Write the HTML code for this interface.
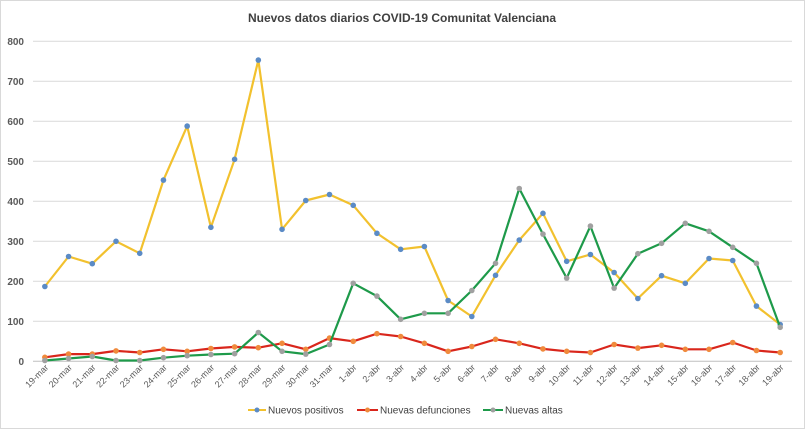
<!DOCTYPE html>
<html><head><meta charset="utf-8"><style>
body{margin:0;background:#fff;}
svg{display:block;font-family:"Liberation Sans",sans-serif;}
.xl{font-size:9px;fill:#595959;text-anchor:end;}
.yl{font-size:10px;fill:#595959;text-anchor:end;font-weight:bold;}
</style></head><body>
<svg id="c" width="805" height="429" viewBox="0 0 805 429">
<rect x="0.5" y="0.5" width="804" height="428" fill="#fff" stroke="#d9d9d9"/>
<text x="402" y="22" text-anchor="middle" font-size="12" font-weight="bold" fill="#404040">Nuevos datos diarios COVID-19 Comunitat Valenciana</text>
<g stroke="#d9d9d9" stroke-width="1">
<line x1="33" x2="792" y1="41.3" y2="41.3"/><line x1="33" x2="792" y1="81.3" y2="81.3"/>
<line x1="33" x2="792" y1="121.3" y2="121.3"/><line x1="33" x2="792" y1="161.3" y2="161.3"/>
<line x1="33" x2="792" y1="201.3" y2="201.3"/><line x1="33" x2="792" y1="241.3" y2="241.3"/>
<line x1="33" x2="792" y1="281.3" y2="281.3"/><line x1="33" x2="792" y1="321.3" y2="321.3"/>
<line x1="33" x2="792" y1="361.3" y2="361.3" stroke="#bfbfbf"/>
</g>
<g class="yl">
<text x="24" y="45">800</text><text x="24" y="85">700</text><text x="24" y="125">600</text>
<text x="24" y="165">500</text><text x="24" y="205">400</text><text x="24" y="245">300</text>
<text x="24" y="285">200</text><text x="24" y="325">100</text><text x="24" y="365">0</text>
</g>
<g class="xl">
<text transform="translate(49,368) rotate(-45)">19-mar</text>
<text transform="translate(72.6,368) rotate(-45)">20-mar</text>
<text transform="translate(96.3,368) rotate(-45)">21-mar</text>
<text transform="translate(120,368) rotate(-45)">22-mar</text>
<text transform="translate(143.7,368) rotate(-45)">23-mar</text>
<text transform="translate(167.5,368) rotate(-45)">24-mar</text>
<text transform="translate(191.2,368) rotate(-45)">25-mar</text>
<text transform="translate(214.9,368) rotate(-45)">26-mar</text>
<text transform="translate(238.6,368) rotate(-45)">27-mar</text>
<text transform="translate(262.3,368) rotate(-45)">28-mar</text>
<text transform="translate(286.1,368) rotate(-45)">29-mar</text>
<text transform="translate(309.8,368) rotate(-45)">30-mar</text>
<text transform="translate(333.5,368) rotate(-45)">31-mar</text>
<text transform="translate(357.2,368) rotate(-45)">1-abr</text>
<text transform="translate(381,368) rotate(-45)">2-abr</text>
<text transform="translate(404.7,368) rotate(-45)">3-abr</text>
<text transform="translate(428.4,368) rotate(-45)">4-abr</text>
<text transform="translate(452.1,368) rotate(-45)">5-abr</text>
<text transform="translate(475.8,368) rotate(-45)">6-abr</text>
<text transform="translate(499.5,368) rotate(-45)">7-abr</text>
<text transform="translate(523.3,368) rotate(-45)">8-abr</text>
<text transform="translate(547,368) rotate(-45)">9-abr</text>
<text transform="translate(570.7,368) rotate(-45)">10-abr</text>
<text transform="translate(594.4,368) rotate(-45)">11-abr</text>
<text transform="translate(618.1,368) rotate(-45)">12-abr</text>
<text transform="translate(641.9,368) rotate(-45)">13-abr</text>
<text transform="translate(665.6,368) rotate(-45)">14-abr</text>
<text transform="translate(689.3,368) rotate(-45)">15-abr</text>
<text transform="translate(713,368) rotate(-45)">16-abr</text>
<text transform="translate(736.7,368) rotate(-45)">17-abr</text>
<text transform="translate(760.5,368) rotate(-45)">18-abr</text>
<text transform="translate(784.2,368) rotate(-45)">19-abr</text>
</g>
<g id="series"></g>
<g font-size="10" fill="#404040">
<line x1="248" x2="266" y1="410" y2="410" stroke="#f2c12e" stroke-width="2"/><circle cx="257" cy="410" r="2.5" fill="#5b8bc6"/>
<text x="268" y="413.5">Nuevos positivos</text>
<line x1="357" x2="378" y1="410" y2="410" stroke="#d9261c" stroke-width="2"/><circle cx="367.5" cy="410" r="2.5" fill="#f08a3c"/>
<text x="380" y="413.5">Nuevas defunciones</text>
<line x1="483" x2="503" y1="410" y2="410" stroke="#1e9a4a" stroke-width="2"/><circle cx="493" cy="410" r="2.5" fill="#a0a0a0"/>
<text x="505" y="413.5">Nuevas altas</text>
</g>
</svg>
<script>
var P=[187,262,244,300,270,453,588,335,505,753,330,402,417,390,320,280,287,152,112,215,303,370,250,267,222,157,214,195,257,252,138,92];
var D=[10,18,18,26,22,30,25,32,36,34,45,30,58,50,69,62,45,25,37,55,45,31,25,22,42,33,40,30,30,47,27,22];
var A=[2,7,12,2,2,9,14,17,19,72,25,18,42,195,163,105,120,120,177,245,432,318,208,338,183,269,295,345,325,285,245,85];
var g=document.getElementById('series'),ns='http://www.w3.org/2000/svg';
function s(d,lc,mc){var pts=d.map(function(v,i){return [44.85+23.72*i,361.3-v*0.4];});
var pl=document.createElementNS(ns,'polyline');pl.setAttribute('points',pts.map(function(p){return p.join(',')}).join(' '));
pl.setAttribute('fill','none');pl.setAttribute('stroke',lc);pl.setAttribute('stroke-width','2.2');pl.setAttribute('stroke-linejoin','round');g.appendChild(pl);
pts.forEach(function(p){var c=document.createElementNS(ns,'circle');c.setAttribute('cx',p[0]);c.setAttribute('cy',p[1]);c.setAttribute('r','2.8');c.setAttribute('fill',mc);g.appendChild(c);});}
s(P,'#f2c12e','#5b8bc6');s(D,'#d9261c','#f08a3c');s(A,'#1e9a4a','#a0a0a0');
</script>
</body></html>
